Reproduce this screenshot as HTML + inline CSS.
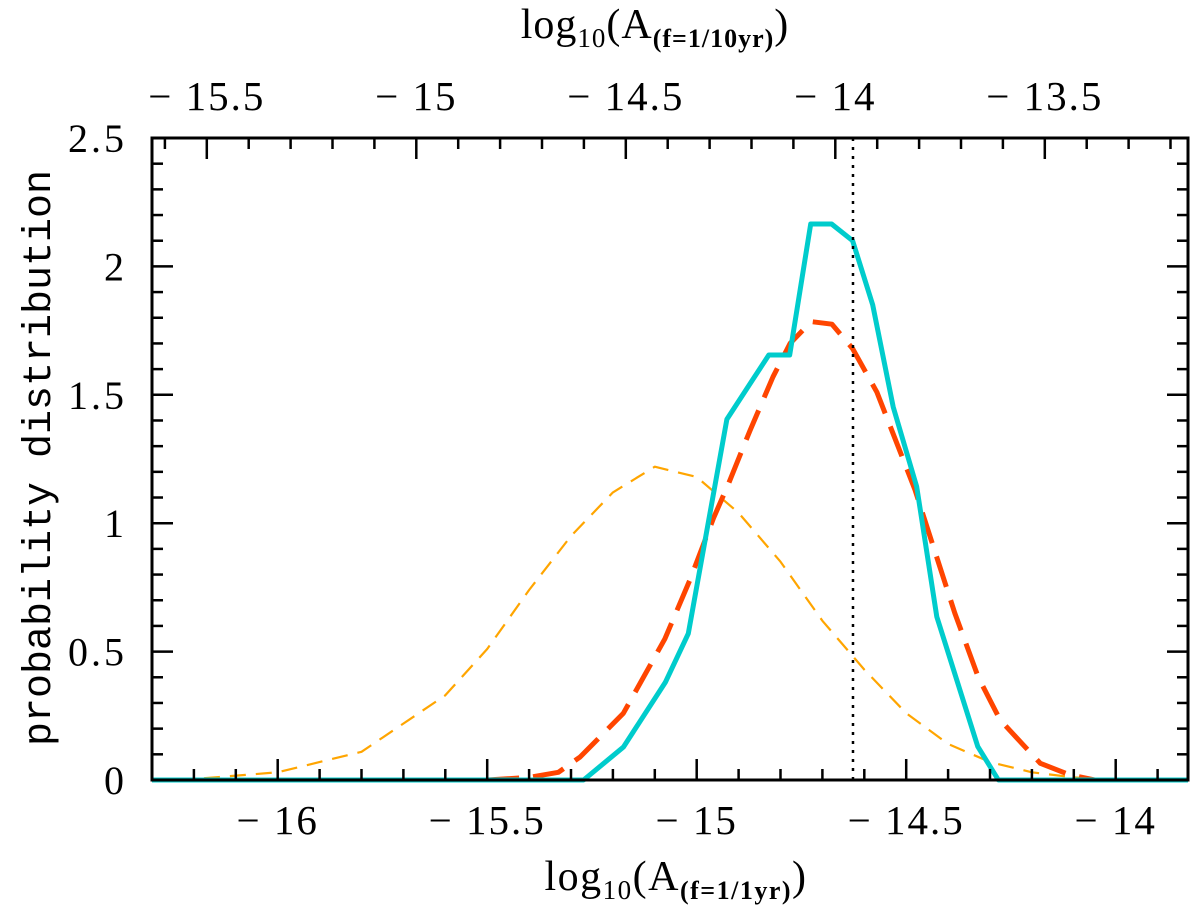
<!DOCTYPE html>
<html><head><meta charset="utf-8"><style>
html,body{margin:0;padding:0;background:#fff;}
svg text{font-family:"Liberation Serif",serif;fill:#000;}
</style></head><body>
<svg id="chart" width="1200" height="909" viewBox="0 0 1200 909" xmlns="http://www.w3.org/2000/svg">
<g id="marks"></g>
<g id="axes"></g>
<rect x="152" y="138" width="1036" height="642" fill="none" stroke="#000" stroke-width="3"/>
<text x="676" y="890" font-size="42" letter-spacing="1.5" text-anchor="middle">log<tspan font-size="27" dy="9">10</tspan><tspan dy="-9">(A</tspan><tspan font-size="26" dy="9" font-weight="bold">(f=1/1yr)</tspan><tspan dy="-9">)</tspan></text>
<text x="655" y="38" font-size="42" letter-spacing="1" text-anchor="middle">log<tspan font-size="27" dy="9">10</tspan><tspan dy="-9">(A</tspan><tspan font-size="26" dy="9" font-weight="bold">(f=1/10yr)</tspan><tspan dy="-9">)</tspan></text>
<text transform="translate(50,458) rotate(-90)" font-size="40" text-anchor="middle" style="font-family:'Liberation Mono',monospace">probability distribution</text>
</svg>
<script>
const botTicks = [-16, -15.5, -15, -14.5, -14];
const botLabels = ["\u2212 16", "\u2212 15.5", "\u2212 15", "\u2212 14.5", "\u2212 14"];
const topTicks = [-15.5, -15, -14.5, -14, -13.5];
const topLabels = ["\u2212 15.5", "\u2212 15", "\u2212 14.5", "\u2212 14", "\u2212 13.5"];
const yTicks = [0, 0.5, 1, 1.5, 2, 2.5];
const yLabels = ["0", "0.5", "1", "1.5", "2", "2.5"];
const refLine = -14.627;
const cyanX = [-16.3, -15.27, -15.175, -15.075, -15.02, -14.928, -14.828, -14.778, -14.728, -14.678, -14.628, -14.58, -14.531, -14.475, -14.427, -14.329, -14.28, -13.8];
const cyanY = [0, 0, 0.128, 0.38, 0.57, 1.405, 1.655, 1.655, 2.165, 2.165, 2.10, 1.85, 1.453, 1.142, 0.636, 0.13, 0, 0];
const redX = [-15.5, -15.4, -15.33, -15.278, -15.175, -15.076, -15.016, -14.96, -14.925, -14.873, -14.818, -14.777, -14.727, -14.677, -14.628, -14.57, -14.479, -14.384, -14.328, -14.276, -14.18, -14.109, -14.05];
const redY = [0, 0.01, 0.03, 0.09, 0.26, 0.55, 0.78, 1.02, 1.15, 1.36, 1.57, 1.70, 1.785, 1.775, 1.68, 1.51, 1.13, 0.65, 0.40, 0.234, 0.065, 0.02, 0];
const orX = [-16.3, -16.2, -16.0, -15.8, -15.6, -15.5, -15.4, -15.3, -15.2, -15.1, -15.0, -14.9, -14.8, -14.7, -14.6, -14.5, -14.4, -14.3, -14.2, -14.1, -14.0];
const orY = [0, 0.004, 0.03, 0.11, 0.33, 0.51, 0.74, 0.95, 1.12, 1.22, 1.18, 1.04, 0.85, 0.62, 0.43, 0.26, 0.14, 0.07, 0.03, 0.01, 0];

const NS = "http://www.w3.org/2000/svg";
const L = 152, R = 1188, T = 138, B = 780;
function xs(v){ return 696.7 + (v + 15) * 419; }
function xt(v){ return 835.3 + (v + 14) * 419; }
function ys(v){ return B - v * 256.8; }
const marks = document.getElementById('marks');
const axes = document.getElementById('axes');
function mk(tag, attrs, parent){
  const e = document.createElementNS(NS, tag);
  for (const k in attrs) e.setAttribute(k, attrs[k]);
  parent.appendChild(e); return e;
}
function clampX(x){ return Math.max(L, Math.min(R, x)); }
function series(xa, ya, name, stroke, w, dash){
  const d = xa.map((v,i)=>(i?'L':'M') + clampX(xs(v)).toFixed(1) + ' ' + ys(ya[i]).toFixed(1)).join(' ');
  const p = mk('path', {d:d, fill:'none', stroke:stroke, 'stroke-width':w, 'stroke-linejoin':'round'}, marks);
  if (dash) p.setAttribute('stroke-dasharray', dash);
  
  
}
series(orX, orY, 'orange-dashed-series', '#ffa500', 2.2, '16 10');
series(redX, redY, 'red-dashed-series', '#ff4500', 5, '32 14');
series(cyanX, cyanY, 'cyan-solid-series', '#00cccc', 5, null);
const rl = mk('line', {x1:xs(refLine), x2:xs(refLine), y1:T, y2:B, stroke:'#000', 'stroke-width':2.5, 'stroke-dasharray':'3 6'}, marks);



for (let m = -163; m <= -138; m++) {
  const v = m / 10, x = xs(v);
  if (x < L + 2 || x > R - 2) continue;
  const len = (m % 5 === 0) ? 21 : 11;
  mk('line', {x1:x, x2:x, y1:B, y2:B - len, stroke:'#000', 'stroke-width':2.5}, axes);
}
for (let m = -156; m <= -131; m++) {
  const v = m / 10, x = xt(v);
  if (x < L + 2 || x > R - 2) continue;
  const len = (m % 5 === 0) ? 21 : 11;
  mk('line', {x1:x, x2:x, y1:T, y2:T + len, stroke:'#000', 'stroke-width':2.5}, axes);
}
for (let m = 1; m < 25; m++) {
  const y = ys(m / 10);
  const len = (m % 5 === 0) ? 21 : 11;
  mk('line', {x1:L, x2:L + len, y1:y, y2:y, stroke:'#000', 'stroke-width':2.5}, axes);
  mk('line', {x1:R, x2:R - len, y1:y, y2:y, stroke:'#000', 'stroke-width':2.5}, axes);
}
botTicks.forEach((v,i)=>{
  const t = mk('text', {x:xs(v), y:834, 'font-size':41, 'letter-spacing':2, 'text-anchor':'middle'}, axes);
  t.textContent = botLabels[i];
  
  
});
topTicks.forEach((v,i)=>{
  const t = mk('text', {x:xt(v), y:110, 'font-size':41, 'letter-spacing':2, 'text-anchor':'middle'}, axes);
  t.textContent = topLabels[i];
  
  
});
yTicks.forEach((v,i)=>{
  const t = mk('text', {x:127, y:ys(v) + 14, 'font-size':40, 'letter-spacing':3, 'text-anchor':'end'}, axes);
  t.textContent = yLabels[i];
  
  
});
</script>
</body></html>
